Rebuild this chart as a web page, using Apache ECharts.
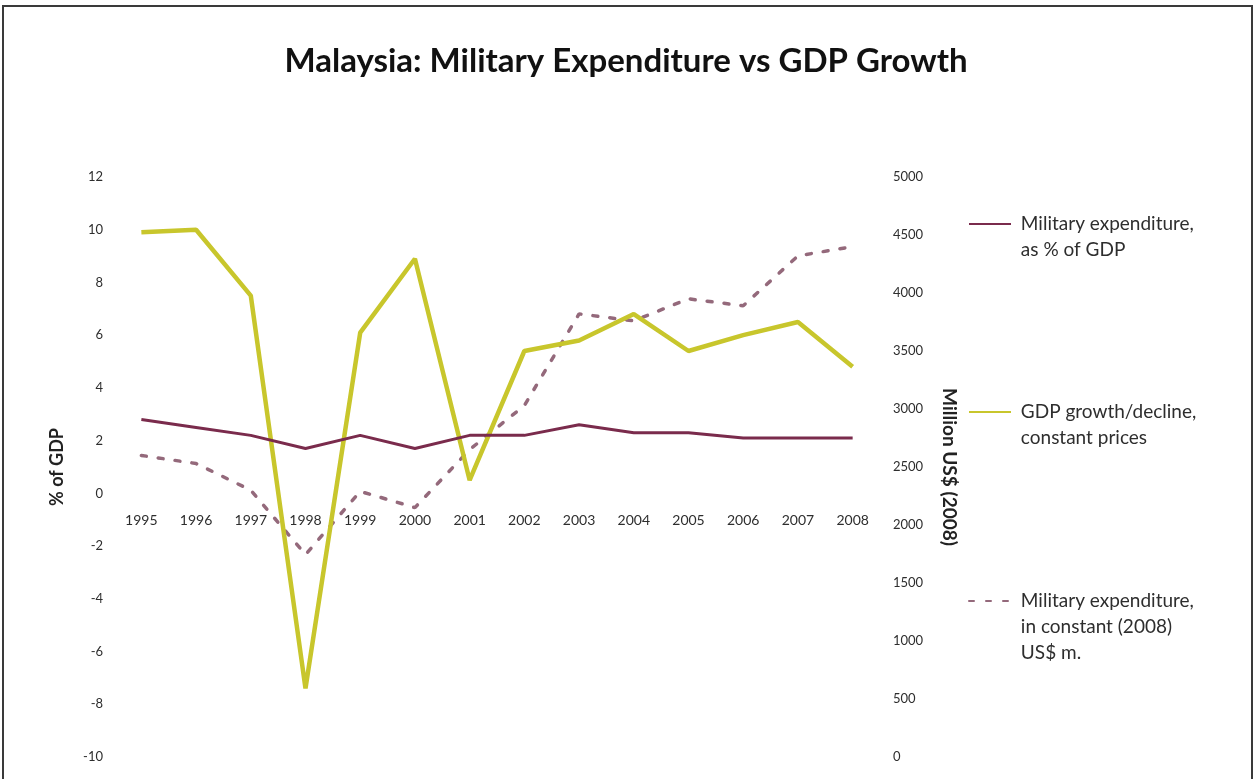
<!DOCTYPE html>
<html>
<head>
<meta charset="utf-8">
<title>Malaysia: Military Expenditure vs GDP Growth</title>
<script src="https://cdn.jsdelivr.net/npm/echarts@6/dist/echarts.min.js"></script>
<style>
  html, body { margin: 0; padding: 0; background: #ffffff; }
  #chart { width: 1255px; height: 779px; }
</style>
</head>
<body>
<div id="chart"></div>
<script>
// Years on the category axis
const years = ['1995', '1996', '1997', '1998', '1999', '2000', '2001',
               '2002', '2003', '2004', '2005', '2006', '2007', '2008'];

// Military expenditure as a share of GDP (%), left axis
const milexPctGdp = [2.8, 2.5, 2.2, 1.7, 2.2, 1.7, 2.2, 2.2, 2.6, 2.3, 2.3, 2.1, 2.1, 2.1];

// Real GDP growth/decline (%), left axis
const gdpGrowth = [9.9, 10.0, 7.5, -7.4, 6.1, 8.9, 0.5, 5.4, 5.8, 6.8, 5.4, 6.0, 6.5, 4.8];

// Military expenditure in constant 2008 US$ millions, right axis
const milexConstUsd = [2600, 2530, 2300, 1745, 2290, 2150, 2650, 3030, 3820, 3760, 3950, 3890, 4320, 4400];

// Axis ranges
const pctAxis = { min: -10, max: 12, interval: 2 };
const usdAxis = { min: 0, max: 5000, interval: 500 };

const seriesNames = {
  pct: 'Military expenditure,\nas % of GDP',
  gdp: 'GDP growth/decline,\nconstant prices',
  usd: 'Military expenditure,\nin constant (2008)\nUS$ m.'
};

const FONT = 'Lato, "Open Sans", sans-serif';
const MAROON = '#7a2b4c';
const OLIVE = '#c8c62c';
const DASH = '#94697b';

// Plot area
const GRID = { left: 114, right: 375, top: 177, bottom: 22 };
const plotHeight = 779 - GRID.top - GRID.bottom;
// Category labels sit on the zero line of the percentage axis
const zeroOffset = -plotHeight * (0 - pctAxis.min) / (pctAxis.max - pctAxis.min);

const chart = echarts.init(document.getElementById('chart'), null, { renderer: 'canvas' });

// One legend block per series so each can sit at its own height on the right.
// Leading blank lines keep the marker level with the first text line.
function legendEntry(name, top) {
  const lines = name.split('\n');
  return {
    data: [name],
    orient: 'vertical',
    left: 968,
    top: top,
    padding: 0,
    itemWidth: 42,
    itemHeight: 2,
    itemGap: 0,
    selectedMode: false,
    formatter: () => '\n'.repeat(lines.length - 1) + lines.map(l => ' ' + l).join('\n'),
    textStyle: {
      fontFamily: FONT,
      fontSize: 19,
      lineHeight: 26,
      color: '#2e2e2e'
    }
  };
}

chart.setOption({
  backgroundColor: '#ffffff',
  animation: false,
  title: {
    text: 'Malaysia: Military Expenditure vs GDP Growth',
    left: 621,
    textAlign: 'center',
    top: 40,
    textStyle: { fontFamily: FONT, fontSize: 33, fontWeight: 'bold', color: '#111111' }
  },
  graphic: [{
    type: 'rect',
    shape: { x: 3, y: 6, width: 1249, height: 800 },
    style: { fill: 'none', stroke: '#3a3a3a', lineWidth: 2 },
    silent: true,
    z: 100
  }],
  legend: [
    legendEntry(seriesNames.pct, 185),
    legendEntry(seriesNames.gdp, 373),
    legendEntry(seriesNames.usd, 536)
  ],
  grid: { left: GRID.left, right: GRID.right, top: GRID.top, bottom: GRID.bottom, containLabel: false },
  xAxis: {
    type: 'category',
    data: years,
    boundaryGap: true,
    position: 'bottom',
    offset: zeroOffset,
    axisLine: { show: false, onZero: false },
    axisTick: { show: false },
    axisLabel: { margin: 20, fontFamily: FONT, fontSize: 14, color: '#2e2e2e' },
    splitLine: { show: false }
  },
  yAxis: [{
    type: 'value',
    position: 'left',
    min: pctAxis.min, max: pctAxis.max, interval: pctAxis.interval,
    name: '% of GDP',
    nameLocation: 'middle',
    nameGap: 48,
    nameRotate: 90,
    nameTextStyle: { fontFamily: FONT, fontSize: 18, fontWeight: 'bold', color: '#222222' },
    axisLine: { show: false },
    axisTick: { show: false },
    axisLabel: { margin: 11, fontFamily: FONT, fontSize: 13, color: '#2e2e2e' },
    splitLine: { show: false }
  }, {
    type: 'value',
    position: 'right',
    min: usdAxis.min, max: usdAxis.max, interval: usdAxis.interval,
    name: 'Million US$ (2008)',
    nameLocation: 'middle',
    nameGap: 60,
    nameRotate: -90,
    nameTextStyle: { fontFamily: FONT, fontSize: 19, fontWeight: 'bold', color: '#222222' },
    axisLine: { show: false },
    axisTick: { show: false },
    axisLabel: { margin: 13, fontFamily: FONT, fontSize: 13, color: '#2e2e2e', formatter: v => String(v) },
    splitLine: { show: false }
  }],
  series: [{
    name: seriesNames.pct,
    type: 'line',
    yAxisIndex: 0,
    data: milexPctGdp,
    symbol: 'none',
    lineStyle: { color: MAROON, width: 3 },
    itemStyle: { color: MAROON },
    z: 4
  }, {
    name: seriesNames.gdp,
    type: 'line',
    yAxisIndex: 0,
    data: gdpGrowth,
    symbol: 'none',
    lineStyle: { color: OLIVE, width: 4.5 },
    itemStyle: { color: OLIVE },
    z: 3
  }, {
    name: seriesNames.usd,
    type: 'line',
    yAxisIndex: 1,
    data: milexConstUsd,
    symbol: 'none',
    lineStyle: { color: DASH, width: 3.5, type: [5, 12], cap: 'round' },
    itemStyle: { color: DASH },
    z: 2
  }]
});
</script>
</body>
</html>
